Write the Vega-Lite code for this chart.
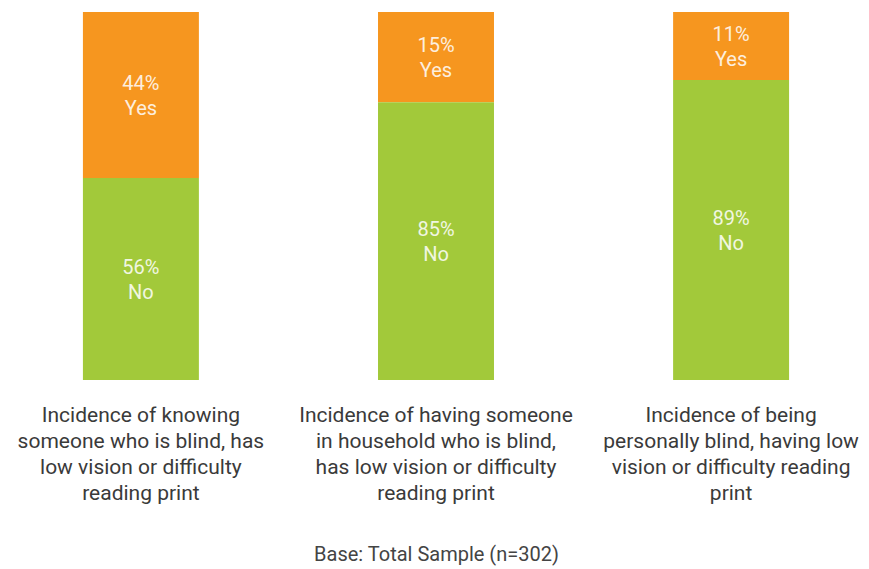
{
  "$schema": "https://vega.github.io/schema/vega-lite/v6.json",
  "width": 872,
  "height": 368,
  "autosize": {"type": "none"},
  "padding": {"top": 12, "left": 0, "right": 0, "bottom": 189},
  "background": "white",
  "config": {"view": {"stroke": null}, "font": "Roboto"},
  "data": {
    "values": [
      {"category": "Incidence of knowing\nsomeone who is blind, has\nlow vision or difficulty\nreading print", "answer": "Yes", "value": 45.1, "pct": "44%", "order": 2},
      {"category": "Incidence of knowing\nsomeone who is blind, has\nlow vision or difficulty\nreading print", "answer": "No", "value": 54.9, "pct": "56%", "order": 1},
      {"category": "Incidence of having someone\nin household who is blind,\nhas low vision or difficulty\nreading print", "answer": "Yes", "value": 24.5, "pct": "15%", "order": 2},
      {"category": "Incidence of having someone\nin household who is blind,\nhas low vision or difficulty\nreading print", "answer": "No", "value": 75.5, "pct": "85%", "order": 1},
      {"category": "Incidence of being\npersonally blind,  having low\nvision or difficulty reading\nprint", "answer": "Yes", "value": 18.5, "pct": "11%", "order": 2},
      {"category": "Incidence of being\npersonally blind,  having low\nvision or difficulty reading\nprint", "answer": "No", "value": 81.5, "pct": "89%", "order": 1}
    ]
  },
  "encoding": {
    "x": {
      "field": "category",
      "type": "nominal",
      "sort": null,
      "scale": {"paddingInner": 0.607, "paddingOuter": 0.281},
      "axis": {
        "title": "Base:  Total Sample (n=302)",
        "titleFontWeight": "normal",
        "titleFontSize": 20,
        "titleColor": "#444444",
        "titlePadding": 41,
        "labelExpr": "split(datum.label, '\\n')",
        "labelAngle": 0,
        "labelFontSize": 21,
        "labelLineHeight": 26,
        "labelColor": "#3a3a3a",
        "labelPadding": 24,
        "labelBaseline": "top",
        "domain": false,
        "ticks": false,
        "labelLimit": 400
      }
    },
    "y": {
      "field": "value",
      "type": "quantitative",
      "stack": "zero",
      "scale": {"domain": [0, 100], "nice": false},
      "axis": null
    },
    "order": {"field": "order", "type": "quantitative"}
  },
  "layer": [
    {
      "mark": {"type": "bar"},
      "encoding": {
        "color": {
          "field": "answer",
          "type": "nominal",
          "scale": {"domain": ["Yes", "No"], "range": ["#F6961F", "#A2C93A"]},
          "legend": null
        }
      }
    },
    {
      "mark": {"type": "text", "dy": -11, "fontSize": 20, "color": "#FFFFFF", "opacity": 0.85},
      "encoding": {
        "y": {"field": "value", "type": "quantitative", "stack": "zero", "bandPosition": 0.5},
        "text": {"field": "pct"}
      }
    },
    {
      "mark": {"type": "text", "dy": 14, "fontSize": 20, "color": "#FFFFFF", "opacity": 0.85},
      "encoding": {
        "y": {"field": "value", "type": "quantitative", "stack": "zero", "bandPosition": 0.5},
        "text": {"field": "answer"}
      }
    }
  ]
}
